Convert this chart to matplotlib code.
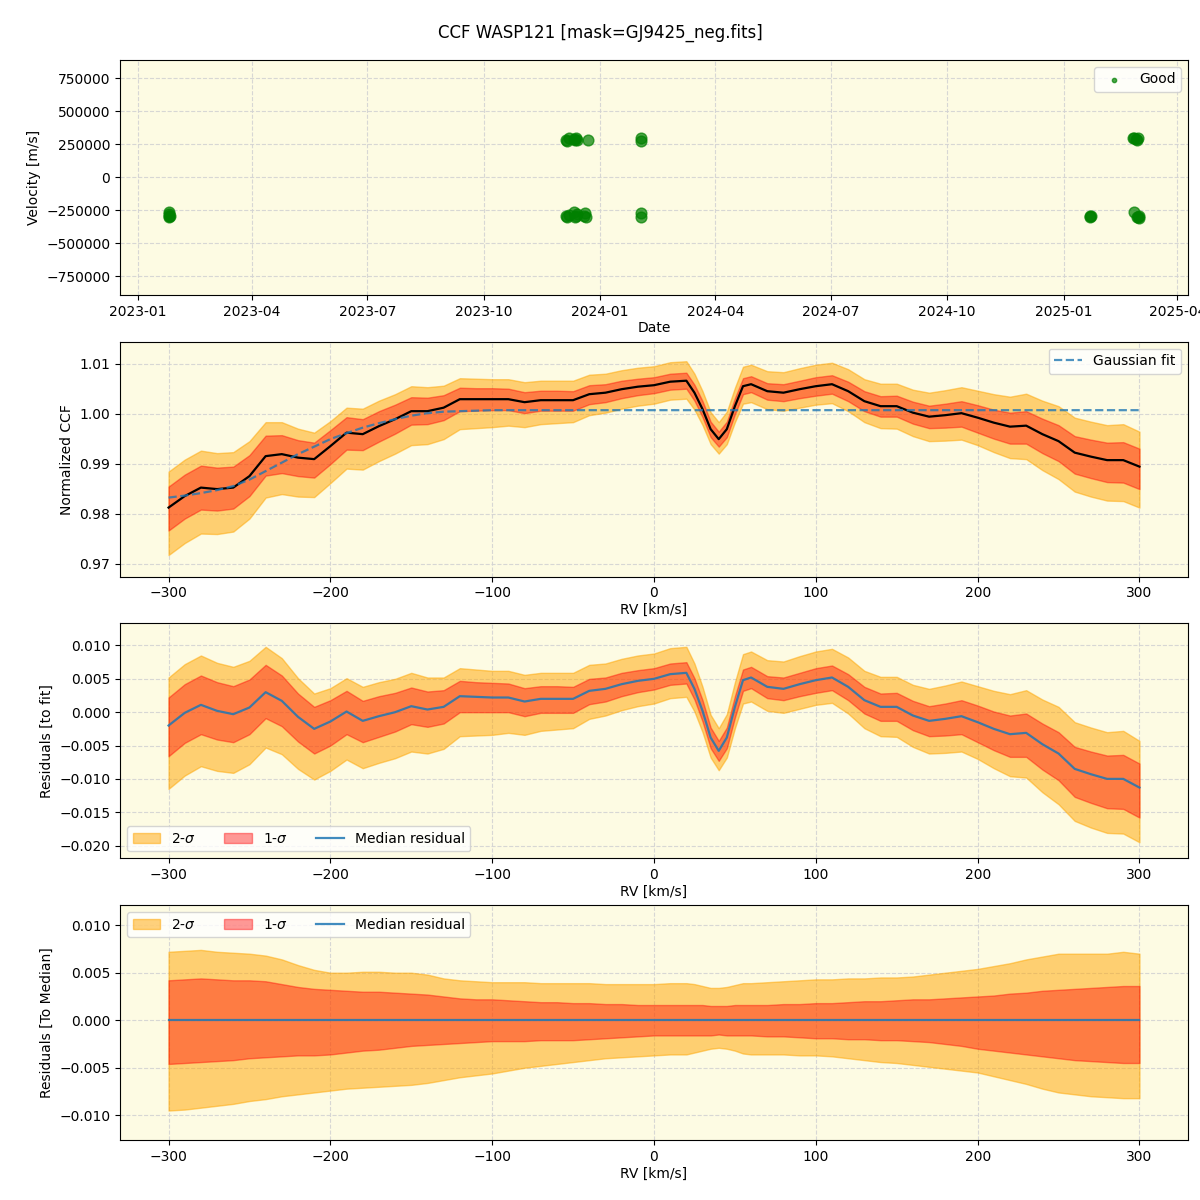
import numpy as np
import pandas as pd
import matplotlib
matplotlib.use("Agg")
import matplotlib.pyplot as plt

# --- observation epochs (top panel) ---
obs_dates = [
    "2023-01-25", "2023-01-25", "2023-01-25", "2023-01-25", "2023-01-26",
    "2023-12-05", "2023-12-05", "2023-12-06", "2023-12-06", "2023-12-07", "2023-12-07",
    "2023-12-11", "2023-12-11", "2023-12-12", "2023-12-12", "2023-12-13", "2023-12-13",
    "2023-12-14", "2023-12-14", "2023-12-19", "2023-12-20", "2023-12-21", "2023-12-22",
    "2024-02-02", "2024-02-02", "2024-02-02", "2024-02-02",
    "2025-01-22", "2025-01-22", "2025-01-23",
    "2025-02-25", "2025-02-26", "2025-02-27", "2025-02-28", "2025-03-01", "2025-03-02",
    "2025-02-26", "2025-02-28", "2025-03-01", "2025-03-02",
]
obs_vel = [
    -300000, -290000, -280000, -260000, -295000,
    285000, -290000, 275000, -300000, 295000, -285000,
    290000, -260000, 280000, -300000, 295000, -295000,
    285000, -280000, -295000, -270000, -300000, 280000,
    295000, 275000, -300000, -270000,
    -300000, -290000, -295000,
    295000, 300000, 290000, -300000, -300000, -290000,
    -260000, 285000, 300000, -305000,
]

# --- CCF profile ---
rv = [-300, -290, -280, -270, -260, -250, -240, -230, -220, -210,
      -200, -190, -180, -170, -160, -150, -140, -130, -120, -110,
      -100, -90, -80, -70, -60, -50, -40, -30, -20, -10,
      0, 10, 20, 25, 30, 35, 40, 45, 50, 55,
      60, 70, 80, 90, 100, 110, 120, 130, 140, 150,
      160, 170, 180, 190, 200, 210, 220, 230, 240, 250,
      260, 270, 280, 290, 300]

ccf_median = [0.9812, 0.9835, 0.9852, 0.9849, 0.9852, 0.9875, 0.9915, 0.9919, 0.9912, 0.9909,
              0.9935, 0.9962, 0.9959, 0.9975, 0.9989, 1.0005, 1.0005, 1.0012, 1.0029, 1.0029,
              1.0029, 1.0029, 1.0023, 1.0027, 1.0027, 1.0027, 1.0039, 1.0042, 1.0049, 1.0054,
              1.0057, 1.0064, 1.0066, 1.0042, 1.0009, 0.9969, 0.9949, 0.9969, 1.0015, 1.0055,
              1.0059, 1.0045, 1.0042, 1.0049, 1.0055, 1.0059, 1.0045, 1.0025, 1.0015, 1.0015,
              1.0002, 0.9994, 0.9997, 1.0001, 0.9992, 0.9982, 0.9974, 0.9976, 0.9959, 0.9945,
              0.9922, 0.9914, 0.9907, 0.9907, 0.9894]

gauss_fit = [0.9832, 0.9836, 0.9841, 0.9847, 0.9855, 0.9868, 0.9885, 0.9902, 0.9919, 0.9934,
             0.9949, 0.9961, 0.9972, 0.9981, 0.9989, 0.9996, 1.0001, 1.0004, 1.0005, 1.0006,
             1.0007, 1.0007, 1.0007, 1.0007, 1.0007, 1.0007, 1.0007, 1.0007, 1.0007, 1.0007,
             1.0007, 1.0007, 1.0007, 1.0007, 1.0007, 1.0007, 1.0007, 1.0007, 1.0007, 1.0007,
             1.0007, 1.0007, 1.0007, 1.0007, 1.0007, 1.0007, 1.0007, 1.0007, 1.0007, 1.0007,
             1.0007, 1.0007, 1.0007, 1.0007, 1.0007, 1.0007, 1.0007, 1.0007, 1.0007, 1.0007,
             1.0007, 1.0007, 1.0007, 1.0007, 1.0007]

# spread around the median (upper / lower half widths)
sig1_up = [0.0042, 0.0043, 0.0044, 0.0043, 0.0042, 0.0042, 0.0041, 0.0038, 0.0035, 0.0033,
           0.0032, 0.0031, 0.0030, 0.0030, 0.0029, 0.0028, 0.0027, 0.0025, 0.0023, 0.0022,
           0.0022, 0.0021, 0.0020, 0.0019, 0.0019, 0.0018, 0.0018, 0.0017, 0.0017, 0.0016,
           0.0016, 0.0016, 0.0016, 0.0016, 0.0016, 0.0015, 0.0015, 0.0015, 0.0016, 0.0016,
           0.0016, 0.0016, 0.0017, 0.0017, 0.0018, 0.0018, 0.0019, 0.0020, 0.0020, 0.0021,
           0.0022, 0.0022, 0.0023, 0.0024, 0.0025, 0.0026, 0.0028, 0.0029, 0.0031, 0.0032,
           0.0033, 0.0034, 0.0035, 0.0036, 0.0036]
sig1_lo = [0.0046, 0.0045, 0.0044, 0.0043, 0.0042, 0.0040, 0.0039, 0.0038, 0.0037, 0.0037,
           0.0036, 0.0034, 0.0032, 0.0031, 0.0029, 0.0027, 0.0026, 0.0025, 0.0024, 0.0023,
           0.0022, 0.0022, 0.0022, 0.0021, 0.0021, 0.0021, 0.0020, 0.0019, 0.0018, 0.0017,
           0.0016, 0.0016, 0.0016, 0.0016, 0.0016, 0.0016, 0.0015, 0.0016, 0.0016, 0.0016,
           0.0016, 0.0017, 0.0017, 0.0018, 0.0019, 0.0019, 0.0020, 0.0020, 0.0021, 0.0021,
           0.0022, 0.0023, 0.0025, 0.0027, 0.0030, 0.0032, 0.0034, 0.0036, 0.0038, 0.0040,
           0.0042, 0.0043, 0.0044, 0.0045, 0.0045]
sig2_up = [0.0072, 0.0073, 0.0074, 0.0072, 0.0071, 0.0070, 0.0068, 0.0064, 0.0058, 0.0053,
           0.0050, 0.0050, 0.0051, 0.0051, 0.0050, 0.0050, 0.0048, 0.0044, 0.0042, 0.0041,
           0.0040, 0.0040, 0.0040, 0.0039, 0.0039, 0.0039, 0.0039, 0.0038, 0.0038, 0.0038,
           0.0038, 0.0039, 0.0039, 0.0038, 0.0036, 0.0034, 0.0034, 0.0035, 0.0037, 0.0039,
           0.0039, 0.0040, 0.0041, 0.0042, 0.0043, 0.0043, 0.0044, 0.0044, 0.0045, 0.0045,
           0.0046, 0.0048, 0.0050, 0.0052, 0.0054, 0.0057, 0.0060, 0.0064, 0.0067, 0.0070,
           0.0070, 0.0070, 0.0070, 0.0072, 0.0070]
sig2_lo = [0.0095, 0.0094, 0.0092, 0.0090, 0.0088, 0.0085, 0.0083, 0.0080, 0.0078, 0.0076,
           0.0074, 0.0072, 0.0071, 0.0070, 0.0069, 0.0068, 0.0066, 0.0063, 0.0060, 0.0058,
           0.0056, 0.0053, 0.0050, 0.0048, 0.0046, 0.0044, 0.0042, 0.0040, 0.0039, 0.0038,
           0.0037, 0.0036, 0.0036, 0.0034, 0.0032, 0.0030, 0.0029, 0.0030, 0.0032, 0.0035,
           0.0036, 0.0036, 0.0036, 0.0037, 0.0037, 0.0038, 0.0040, 0.0042, 0.0044, 0.0045,
           0.0047, 0.0049, 0.0051, 0.0053, 0.0055, 0.0059, 0.0063, 0.0067, 0.0072, 0.0076,
           0.0078, 0.0080, 0.0081, 0.0082, 0.0082]

BG = "#fdfbe3"

rv = np.array(rv)
med = np.array(ccf_median)
fit = np.array(gauss_fit)
s1u, s1l = np.array(sig1_up), np.array(sig1_lo)
s2u, s2l = np.array(sig2_up), np.array(sig2_lo)
resid = med - fit


def bands(ax, center, label=True):
    ax.fill_between(rv, center - s2l, center + s2u, color="orange", alpha=0.5,
                    label="2-$\\sigma$" if label else None)
    ax.fill_between(rv, center - s1l, center + s1u, color="red", alpha=0.4,
                    label="1-$\\sigma$" if label else None)


def style(ax):
    ax.set_facecolor(BG)
    ax.grid(True, linestyle="--", color="lightgray", alpha=0.9)
    ax.set_axisbelow(True)


fig, axes = plt.subplots(4, 1, figsize=(12, 12), dpi=100)
fig.subplots_adjust(left=0.1, right=0.99, top=0.95, bottom=0.05, hspace=0.2)
fig.suptitle("CCF WASP121 [mask=GJ9425_neg.fits]", fontsize=12, y=0.98)

# panel 1: velocities
ax = axes[0]
style(ax)
ax.scatter(pd.to_datetime(obs_dates), obs_vel, s=60, color="green", alpha=0.7, label="Good")
ax.set_ylim(-890000, 890000)
ax.set_ylabel("Velocity [m/s]")
ax.set_xlabel("Date", labelpad=2)
ax.legend(loc="upper right", markerscale=0.4)

# panel 2: normalized CCF
ax = axes[1]
style(ax)
bands(ax, med, label=False)
ax.plot(rv, med, color="black", lw=1.6)
ax.plot(rv, fit, "--", color="tab:blue", alpha=0.8, lw=1.6, label="Gaussian fit")
ax.set_ylim(0.9674, 1.0144)
ax.set_ylabel("Normalized CCF")
ax.set_xlabel("RV [km/s]", labelpad=2)
ax.legend(loc="upper right")

# panel 3: residuals to fit
ax = axes[2]
style(ax)
bands(ax, resid)
ax.plot(rv, resid, color="tab:blue", alpha=0.85, lw=1.6, label="Median residual")
ax.set_ylim(-0.0219, 0.0133)
ax.set_ylabel("Residuals [to fit]")
ax.set_xlabel("RV [km/s]", labelpad=2)
ax.legend(loc="lower left", ncol=3)

# panel 4: residuals to median
ax = axes[3]
style(ax)
bands(ax, np.zeros_like(med))
ax.plot(rv, np.zeros_like(med), color="tab:blue", alpha=0.85, lw=1.6, label="Median residual")
ax.set_ylim(-0.0126, 0.0121)
ax.set_ylabel("Residuals [To Median]")
ax.set_xlabel("RV [km/s]", labelpad=2)
ax.legend(loc="upper left", ncol=3)

fig.savefig("out.png", dpi=100)
